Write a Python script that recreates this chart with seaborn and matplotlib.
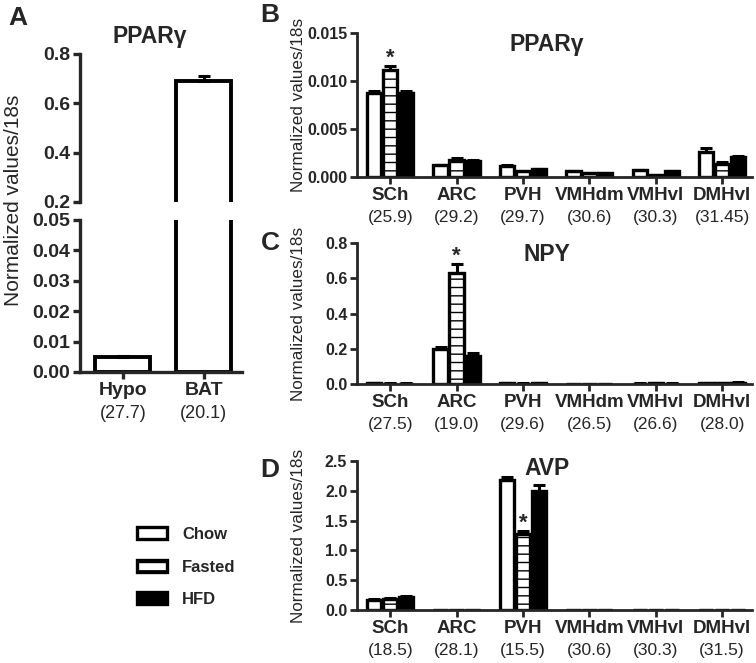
import numpy as np
import pandas as pd
import matplotlib
matplotlib.use("Agg")
import matplotlib.pyplot as plt
import matplotlib.patches as mpatches
import seaborn as sns

sns.set_style("ticks")
plt.rcParams['font.family'] = ['Liberation Sans', 'DejaVu Sans']
plt.rcParams['hatch.linewidth'] = 1.0

# ---------------- data ----------------
groups = ["Chow", "Fasted", "HFD"]
regions = ["SCh", "ARC", "PVH", "VMHdm", "VMHvl", "DMHvl"]

a_tissues = ["Hypo", "BAT"]
a_ct = ["(27.7)", "(20.1)"]
a_values = [0.0048, 0.692]
a_err = [0.0003, 0.018]

b_ct = ["(25.9)", "(29.2)", "(29.7)", "(30.6)", "(30.3)", "(31.45)"]
b_chow = [0.0088, 0.0012, 0.0011, 0.0006, 0.0007, 0.0026]
b_fasted = [0.0111, 0.0018, 0.0006, 0.0004, 0.0002, 0.0014]
b_hfd = [0.0087, 0.0017, 0.0008, 0.0004, 0.0006, 0.0021]
b_chow_err = [0.0002, 0.0001, 0.0001, 0.00005, 0.00005, 0.0004]
b_fasted_err = [0.0005, 0.0002, 0.00005, 0.00005, 0.00003, 0.0002]
b_hfd_err = [0.0003, 0.0001, 0.00005, 0.00005, 0.00005, 0.0001]

c_ct = ["(27.5)", "(19.0)", "(29.6)", "(26.5)", "(26.6)", "(28.0)"]
c_chow = [0.003, 0.20, 0.003, 0.001, 0.002, 0.004]
c_fasted = [0.002, 0.63, 0.002, 0.001, 0.003, 0.004]
c_hfd = [0.002, 0.16, 0.003, 0.001, 0.002, 0.008]
c_chow_err = [0.001, 0.012, 0.001, 0.0, 0.001, 0.001]
c_fasted_err = [0.001, 0.05, 0.001, 0.0, 0.001, 0.001]
c_hfd_err = [0.001, 0.015, 0.001, 0.0, 0.001, 0.002]

d_ct = ["(18.5)", "(28.1)", "(15.5)", "(30.6)", "(30.3)", "(31.5)"]
d_chow = [0.17, 0.001, 2.18, 0.0, 0.0, 0.0]
d_fasted = [0.18, 0.001, 1.27, 0.0, 0.0, 0.0]
d_hfd = [0.22, 0.001, 2.00, 0.0, 0.0, 0.0]
d_chow_err = [0.02, 0.0, 0.05, 0.0, 0.0, 0.0]
d_fasted_err = [0.02, 0.0, 0.05, 0.0, 0.0, 0.0]
d_hfd_err = [0.02, 0.0, 0.09, 0.0, 0.0, 0.0]

W, H = 756, 663
fig = plt.figure(figsize=(W / 100, H / 100), dpi=100)


def px_axes(left, top, right, bottom):
    return fig.add_axes([left / W, 1 - bottom / H, (right - left) / W, (bottom - top) / H])


palette = {"Chow": "white", "Fasted": "white", "HFD": "black"}
LW = 2.4


def err_up(ax, bars, errs):
    for p, e in zip(bars, errs):
        x = p.get_x() + p.get_width() / 2
        y = p.get_height()
        if e <= 0:
            continue
        ax.errorbar([x], [y], yerr=[[0], [e]], fmt='none', ecolor='black',
                    elinewidth=2.2, capsize=4, capthick=2.2, zorder=1)


def region_panel(ax, chow, fasted, hfd, errs, ct, ymax, yticks, fmt, title, title_y, star_group):
    df = pd.DataFrame({
        "region": regions * 3,
        "group": [g for g in groups for _ in regions],
        "value": list(chow) + list(fasted) + list(hfd),
    })
    sns.barplot(data=df, x="region", y="value", hue="group", order=regions,
                hue_order=groups, palette=palette, edgecolor="black",
                linewidth=LW, errorbar=None, width=0.72, gap=0.1,
                legend=False, ax=ax)
    for cont, e in zip(ax.containers, errs):
        err_up(ax, cont.patches, e)
    for p in ax.containers[1].patches:
        p.set_hatch('--')
    ax.set_ylim(0, ymax)
    ax.set_xlim(-0.5, 5.45)
    ax.set_yticks(yticks)
    ax.set_yticklabels([fmt.format(t) for t in yticks], fontsize=11.5, fontweight='bold')
    ax.set_xticks(range(len(regions)))
    ax.set_xticklabels(regions, fontsize=13.5, fontweight='bold')
    for i, c in enumerate(ct):
        ax.annotate(c, xy=(i, 0), xycoords=('data', 'axes fraction'),
                    xytext=(0, -29), textcoords='offset points',
                    ha='center', va='center', fontsize=12.5)
    ax.set_xlabel("")
    ax.set_ylabel("Normalized values/18s", fontsize=12.3)
    ax.yaxis.set_label_coords(-0.13, 0.5)
    sns.despine(ax=ax)
    for s in ("left", "bottom"):
        ax.spines[s].set_linewidth(2)
    ax.tick_params(width=2, length=5, pad=2)
    ax.text(0.48, title_y, title, transform=ax.transAxes, fontsize=16.5,
            fontweight='bold', ha='center', va='center')
    gi, ri = star_group
    p = ax.containers[gi].patches[ri]
    top = p.get_height() + errs[gi][ri]
    ax.annotate("*", xy=(p.get_x() + p.get_width() / 2, top), xycoords='data',
                xytext=(0, -2), textcoords='offset points', ha='center',
                va='bottom', fontsize=16, fontweight='bold')


# ---------------- Panel A (broken axis) ----------------
axA_top = px_axes(80, 54, 242, 202)
axA_bot = px_axes(80, 220, 242, 372)
dfa = pd.DataFrame({"tissue": a_tissues, "value": a_values})
for ax in (axA_top, axA_bot):
    sns.barplot(data=dfa, x="tissue", y="value", color="white", edgecolor="black",
                linewidth=LW + 0.4, errorbar=None, width=0.68, ax=ax)
    err_up(ax, ax.containers[0].patches, a_err)
    ax.set_xlim(-0.53, 1.47)
    ax.set_xlabel("")
    ax.set_ylabel("")
    sns.despine(ax=ax)
    ax.spines["left"].set_linewidth(2.4)
    ax.spines["bottom"].set_linewidth(2.4)
    ax.tick_params(width=2.4, length=5, pad=2)
axA_top.set_ylim(0.2, 0.8)
axA_top.set_yticks([0.2, 0.4, 0.6, 0.8])
axA_top.set_yticklabels(["0.2", "0.4", "0.6", "0.8"], fontsize=14, fontweight='bold')
axA_top.spines["bottom"].set_visible(False)
axA_top.set_xticks([])
axA_bot.set_ylim(0, 0.05)
bt = [0.0, 0.01, 0.02, 0.03, 0.04, 0.05]
axA_bot.set_yticks(bt)
axA_bot.set_yticklabels(["{:.2f}".format(t) for t in bt], fontsize=14, fontweight='bold')
axA_bot.set_xticks([0, 1])
axA_bot.set_xticklabels(a_tissues, fontsize=14, fontweight='bold')
for i, c in enumerate(a_ct):
    axA_bot.annotate(c, xy=(i, 0), xycoords=('data', 'axes fraction'),
                     xytext=(0, -30), textcoords='offset points',
                     ha='center', va='center', fontsize=13)
fig.text(14 / W, 1 - 200 / H, "Normalized values/18s", rotation=90,
         fontsize=15, ha='center', va='center')
fig.text(150 / W, 1 - 37 / H, "PPARγ", fontsize=16.5, fontweight='bold',
         ha='center', va='center')

# ---------------- Panels B, C, D ----------------
axB = px_axes(357, 33, 752, 177)
region_panel(axB, b_chow, b_fasted, b_hfd, [b_chow_err, b_fasted_err, b_hfd_err],
             b_ct, 0.015, [0, 0.005, 0.010, 0.015], "{:.3f}", "PPARγ", 0.92, (1, 0))
axC = px_axes(357, 243, 752, 384)
region_panel(axC, c_chow, c_fasted, c_hfd, [c_chow_err, c_fasted_err, c_hfd_err],
             c_ct, 0.8, [0, 0.2, 0.4, 0.6, 0.8], "{:.1f}", "NPY", 0.92, (1, 1))
axD = px_axes(357, 461, 752, 610)
region_panel(axD, d_chow, d_fasted, d_hfd, [d_chow_err, d_fasted_err, d_hfd_err],
             d_ct, 2.5, [0, 0.5, 1.0, 1.5, 2.0, 2.5], "{:.1f}", "AVP", 0.95, (1, 2))

# panel letters
for lab, x, y in [("A", 18, 18), ("B", 270, 15), ("C", 270, 243), ("D", 270, 470)]:
    fig.text(x / W, 1 - y / H, lab, fontsize=19, fontweight='bold', ha='center', va='center')

# ---------------- legend ----------------
handles = [
    mpatches.Patch(facecolor="white", edgecolor="black", linewidth=2.4, label="Chow"),
    mpatches.Patch(facecolor="white", edgecolor="black", linewidth=2.4, hatch='--', label="Fasted"),
    mpatches.Patch(facecolor="black", edgecolor="black", linewidth=2.4, label="HFD"),
]
leg = fig.legend(handles=handles, loc='upper left', bbox_to_anchor=(122 / W, 1 - 512 / H),
                 frameon=False, prop={'weight': 'bold', 'size': 12},
                 handlelength=1.8, handleheight=0.75, labelspacing=1.05, handletextpad=0.9)

fig.savefig("out.png", dpi=100)
